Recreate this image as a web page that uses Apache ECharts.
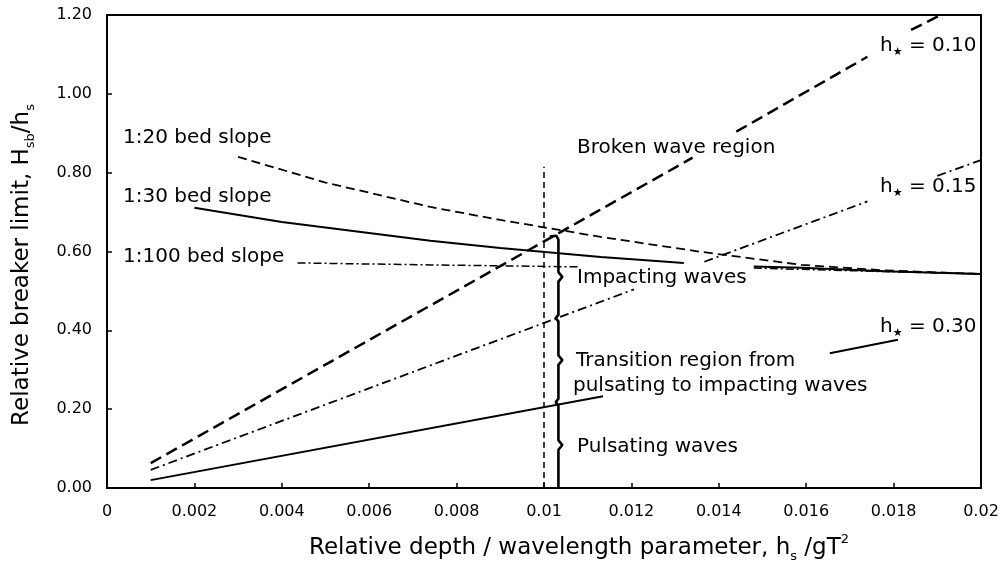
<!DOCTYPE html>
<html>
<head>
<meta charset="utf-8">
<title>Breaker limit vs relative depth</title>
<script src="https://cdn.jsdelivr.net/npm/echarts@6/dist/echarts.min.js"></script>
<style>
  html, body { margin: 0; padding: 0; background: #fff; }
  #chart { width: 1003px; height: 578px; }
</style>
</head>
<body>
<div id="chart"></div>
<script>
// Axis ticks
const xTickLabels = ['0', '0.002', '0.004', '0.006', '0.008', '0.01', '0.012', '0.014', '0.016', '0.018', '0.02'];
const yTickLabels = ['0.00', '0.20', '0.40', '0.60', '0.80', '1.00', '1.20'];

// Wave-steepness lines h* (null = break in the drawn line behind a label)
const hStar010 = [[0.001, 0.063], [0.0134, 0.838], null, [0.0144, 0.904], [0.0174, 1.094], null, [0.0184, 1.162], [0.01908, 1.2]];
const hStar015 = [[0.001, 0.046], [0.01206, 0.504], null, [0.01367, 0.574], [0.0174, 0.727], null, [0.0190, 0.792], [0.02, 0.832]];
const hStar030 = [[0.001, 0.020], [0.01135, 0.233], null, [0.01654, 0.342], [0.0181, 0.376]];

// Bed slope curves
const slope20 = [[0.003, 0.840], [0.005, 0.775], [0.0074, 0.713], [0.009, 0.680], [0.0113, 0.637], [0.0136, 0.599], [0.0159, 0.566], [0.0178, 0.552], [0.02, 0.543]];
const slope30 = [[0.002, 0.711], [0.004, 0.675], [0.0074, 0.627], [0.009, 0.609], [0.0113, 0.586], [0.0132, 0.571], null, [0.0148, 0.562], [0.0159, 0.559], [0.0178, 0.550], [0.02, 0.543]];
const slope100 = [[0.00436, 0.571], [0.0074, 0.566], [0.0108, 0.561], null, [0.0148, 0.558], [0.0178, 0.549], [0.02, 0.543]];

// Vertical divider and the region brace
const dividerX = 0.01;
const dividerTop = 0.815;
const braceX = 0.01033;
const braceLevels = [0, 0.218, 0.431, 0.64];

const FONT = '"DejaVu Sans", "Liberation Sans", Arial, sans-serif';
const INK = '#000';

function splitSegments(points) {
  const out = [[]];
  points.forEach(p => {
    if (p === null) out.push([]);
    else out[out.length - 1].push(p);
  });
  return out.filter(s => s.length > 1);
}

function lineSeries(points, lineStyle) {
  return splitSegments(points).map(seg => ({
    type: 'line',
    data: seg,
    symbol: 'none',
    silent: true,
    animation: false,
    lineStyle: Object.assign({ color: INK }, lineStyle)
  }));
}

// Curly brace: three stacked braces, each with a cusp pointing right
function bracePoints() {
  const dx = 0.00009, dy = 0.012;
  const pts = [[braceX, braceLevels[0]]];
  for (let i = 0; i < braceLevels.length - 1; i++) {
    const lo = braceLevels[i], hi = braceLevels[i + 1], mid = (lo + hi) / 2;
    pts.push([braceX, mid - dy], [braceX + dx, mid], [braceX, mid + dy]);
    if (i < braceLevels.length - 2) {
      pts.push([braceX, hi - dy * 0.7], [braceX - dx * 0.7, hi], [braceX, hi + dy * 0.7]);
    }
  }
  const top = braceLevels[braceLevels.length - 1];
  pts.push([braceX, top - 0.01], [braceX - 0.00005, top], [braceX - 0.0002, top - 0.002]);
  return pts;
}

const series = [].concat(
  lineSeries(hStar010, { width: 2.5, type: [12, 6] }),
  lineSeries(hStar015, { width: 1.8, type: [9, 4, 2, 4] }),
  lineSeries(hStar030, { width: 2 }),
  lineSeries(slope20, { width: 1.8, type: [9, 5] }),
  lineSeries(slope30, { width: 2 }),
  lineSeries(slope100, { width: 1.5, type: [8, 3, 2, 3] }),
  lineSeries([[dividerX, 0], [dividerX, dividerTop]], { width: 1.5, type: [6, 4] }),
  lineSeries(bracePoints(), { width: 2.6 })
);

function label(text, x, y, extra) {
  return {
    type: 'text',
    x: x, y: y,
    silent: true,
    z: 100,
    style: Object.assign({
      text: text,
      fill: INK,
      fontFamily: FONT,
      fontSize: 20,
      align: 'left',
      verticalAlign: 'middle'
    }, extra || {})
  };
}

const starRich = {
  h: { fontFamily: FONT, fontSize: 20, color: INK, lineHeight: 24 },
  st: { fontFamily: FONT, fontSize: 11, color: INK, verticalAlign: 'bottom', lineHeight: 19 }
};
function hStarLabel(val, x, y) {
  return label('{h|h}{st|★}{h| = ' + val + '}', x, y, { rich: starRich });
}

const titleRich = {
  t: { fontFamily: FONT, fontSize: 23, color: INK, lineHeight: 30 },
  sub: { fontFamily: FONT, fontSize: 13, color: INK, verticalAlign: 'bottom', lineHeight: 13 },
  sup: { fontFamily: FONT, fontSize: 13, color: INK, verticalAlign: 'top', lineHeight: 13 }
};

const chart = echarts.init(document.getElementById('chart'), null, { renderer: 'canvas' });
chart.setOption({
  backgroundColor: '#fff',
  animation: false,
  grid: {
    left: 107, right: 22, top: 15, bottom: 90,
    show: true, borderColor: INK, borderWidth: 2, backgroundColor: 'transparent'
  },
  xAxis: {
    type: 'value',
    min: 0, max: 0.02, interval: 0.002,
    axisLine: { show: true, lineStyle: { color: INK, width: 2 } },
    axisTick: { show: true, inside: true, length: 5, lineStyle: { color: INK, width: 1.5 } },
    splitLine: { show: false },
    axisLabel: {
      margin: 16, color: INK, fontFamily: FONT, fontSize: 16,
      formatter: v => xTickLabels[Math.round(v / 0.002)]
    }
  },
  yAxis: {
    type: 'value',
    min: 0, max: 1.2, interval: 0.2,
    axisLine: { show: true, lineStyle: { color: INK, width: 2 } },
    axisTick: { show: true, inside: true, length: 5, lineStyle: { color: INK, width: 1.5 } },
    splitLine: { show: false },
    axisLabel: {
      margin: 15, color: INK, fontFamily: FONT, fontSize: 16,
      formatter: v => yTickLabels[Math.round(v / 0.2)]
    }
  },
  series: series,
  graphic: [
    label('1:20 bed slope', 123, 138),
    label('1:30 bed slope', 123, 197),
    label('1:100 bed slope', 123, 257),
    label('Broken wave region', 577, 148),
    label('Impacting waves', 577, 278),
    label('Transition region from', 576, 361),
    label('pulsating to impacting waves', 573, 386),
    label('Pulsating waves', 577, 447),
    hStarLabel('0.10', 880, 46),
    hStarLabel('0.15', 880, 187),
    hStarLabel('0.30', 880, 327),
    {
      type: 'text', x: 579, y: 548, silent: true,
      style: {
        text: '{t|Relative depth / wavelength parameter, h}{sub|s}{t| /gT}{sup|2}',
        rich: titleRich, align: 'center', verticalAlign: 'middle'
      }
    },
    {
      type: 'text', x: 22, y: 265, rotation: Math.PI / 2, silent: true,
      style: {
        text: '{t|Relative breaker limit, H}{sub|sb}{t|/h}{sub|s}',
        rich: titleRich, align: 'center', verticalAlign: 'middle'
      }
    }
  ]
});
</script>
</body>
</html>
